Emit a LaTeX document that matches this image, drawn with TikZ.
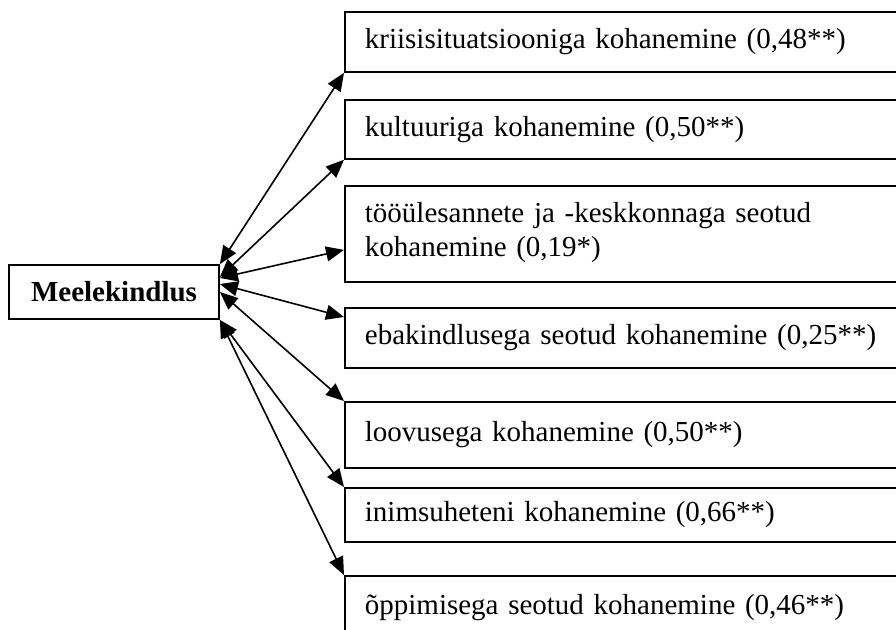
\documentclass[tikz,border=0pt]{standalone}
\usepackage{fontspec}
\setmainfont{Liberation Serif}
\usetikzlibrary{arrows.meta}

\begin{document}
\begin{tikzpicture}[x=0.5pt, y=-0.5pt,
    kast/.style={draw, line width=0.9pt, rectangle, anchor=north west, inner xsep=10pt, inner ysep=0pt,
      text width=263pt, align=left, font=\fontsize{14.5}{17}\selectfont},
    seos/.style={line width=0.8pt, {Triangle[length=9pt,width=7.5pt]}-{Triangle[length=9pt,width=7.5pt]}}]
  \useasboundingbox (0,0) rectangle (896,629);

  % Central box
  \node[draw, line width=0.9pt, minimum width=105pt, minimum height=27pt, inner sep=0pt,
    font=\fontsize{14.5}{17}\selectfont\bfseries] (meele) at (114,292) {Meelekindlus};

  % Adaptation boxes on the right
  \node[kast, minimum height=30pt] (k1) at (344,11) {kriisisituatsiooniga kohanemine (0,48**)};
  \node[kast, minimum height=29.5pt] (k2) at (344,99) {kultuuriga kohanemine (0,50**)};
  \node[kast, minimum height=48pt, text depth=21pt] (k3) at (344,185) {tööülesannete ja -keskkonnaga seotud\\kohanemine (0,19*)};
  \node[kast, minimum height=30pt] (k4) at (344,307) {ebakindlusega seotud kohanemine (0,25**)};
  \node[kast, minimum height=33pt] (k5) at (344,401) {loovusega kohanemine (0,50**)};
  \node[kast, minimum height=27pt] (k6) at (344,487) {inimsuheteni kohanemine (0,66**)};
  \node[kast, minimum height=31.5pt] (k7) at (344,575) {õppimisega seotud kohanemine (0,46**)};

  % Two-way links
  \draw[seos] (meele.north east) -- (k1.south west);
  \draw[seos] ([yshift=7.5pt]meele.east) -- (k2.south west);
  \draw[seos] ([yshift=7pt]meele.east) -- ([yshift=-8pt]k3.west);
  \draw[seos] ([yshift=4pt]meele.east) -- ([yshift=-5pt]k4.north west);
  \draw[seos] (meele.east) -- (k5.north west);
  \draw[seos] (meele.south east) -- (k6.north west);
  \draw[seos] (meele.south east) -- (k7.north west);
\end{tikzpicture}
\end{document}
